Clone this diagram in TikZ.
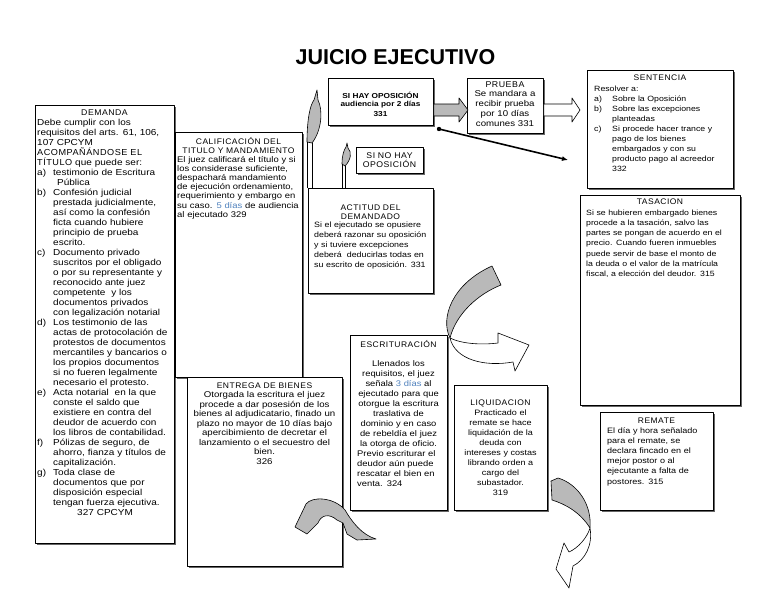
\documentclass[tikz,border=0pt]{standalone}
\usepackage{fontspec}
\setmainfont{Liberation Sans}
\newfontfamily\bodyfont{Liberation Sans}[FakeStretch=1.15]
\newfontfamily\headfont{Liberation Sans}[LetterSpace=6,FakeStretch=1.05]
\usetikzlibrary{shadows,arrows.meta}
\definecolor{dblue}{RGB}{79,129,189}
\definecolor{agray}{RGB}{185,185,185}
\newcommand\itm[1]{\makebox[16pt][l]{#1}}
\newcommand\ind{\hspace*{16pt}}
\newcommand\mkbox[5]{\node[box, minimum width={#4-#2}, minimum height={#5-#3}] (#1) at (#2,#3) {};}
\begin{document}
\begin{tikzpicture}[x=1pt,y=-1pt,line join=round,
  box/.style={draw, line width=0.8pt, fill=white, anchor=north west, inner sep=0pt,
    drop shadow={shadow xshift=1.2pt, shadow yshift=-1.2pt, fill=black!60, opacity=1}},
  tl/.style={anchor=base west, inner sep=0pt, align=left, text width=#1},
  tc/.style={anchor=base, inner sep=0pt, align=center, text width=#1},
  hd/.style={font=\headfont\fontsize{#1}{9.3}\selectfont},
  arrowgray/.style={fill=agray, draw=black, line width=0.6pt},
  arrowwhite/.style={fill=white, draw=black, line width=0.6pt}]
\useasboundingbox (0,0) rectangle (768,594);
\fill[white] (0,0) rectangle (768,594);

% title
\node[anchor=base, inner sep=0pt, font=\fontsize{21.5}{21.5}\bfseries\selectfont] (title) at (395.5,65) {JUICIO EJECUTIVO};

% boxes
\mkbox{dem}{35}{105}{174}{543}
\mkbox{cal}{175}{132}{302}{377}
\mkbox{sihay}{328}{78}{433}{125}
\mkbox{sino}{356}{147}{423}{173}
\mkbox{act}{308}{188}{433}{293}
\mkbox{prueba}{467}{78}{543}{133}
\mkbox{sent}{587}{70}{733}{188}
\mkbox{tas}{580}{195}{740}{405}
\mkbox{esc}{350}{335}{447}{510}
\mkbox{ent}{187}{377}{342}{566}
\mkbox{liq}{454}{385}{547}{510}
\mkbox{rem}{600}{412}{713}{510}

% DEMANDA
\node[tc=130pt, hd=8.3] (demH) at (104.5,115) {DEMANDA};
\node[tl=136pt, font=\bodyfont\fontsize{8.7}{10}\selectfont] (demT) at (37,125) {Debe cumplir con los\\
requisitos del arts. 61, 106,\\
107 CPCYM\\
{\headfont ACOMPAÑÁNDOSE EL}\\
{\headfont TÍTULO} que puede ser:\\
\itm{a)}testimonio de Escritura\\
\ind\hspace*{4pt}Pública\\
\itm{b)}Confesión judicial\\
\ind prestada judicialmente,\\
\ind así como la confesión\\
\ind ficta cuando hubiere\\
\ind principio de prueba\\
\ind escrito.\\
\itm{c)}Documento privado\\
\ind suscritos por el obligado\\
\ind o por su representante y\\
\ind reconocido ante juez\\
\ind competente\ \ y los\\
\ind documentos privados\\
\ind con legalización notarial\\
\itm{d)}Los testimonio de las\\
\ind actas de protocolación de\\
\ind protestos de documentos\\
\ind mercantiles y bancarios o\\
\ind los propios documentos\\
\ind si no fueren legalmente\\
\ind necesario el protesto.\\
\itm{e)}Acta notarial\ \ en la que\\
\ind conste el saldo que\\
\ind existiere en contra del\\
\ind deudor de acuerdo con\\
\ind los libros de contabilidad.\\
\itm{f)}Pólizas de seguro, de\\
\ind ahorro, fianza y títulos de\\
\ind capitalización.\\
\itm{g)}Toda clase de\\
\ind documentos que por\\
\ind disposición especial\\
\ind tengan fuerza ejecutiva.\\
\hspace*{40pt}327 CPCYM};

% CALIFICACION
\node[tc=125pt, hd=8.1] (calH) at (238.5,144) {CALIFICACIÓN DEL\\TITULO Y MANDAMIENTO};
\node[tl=124pt, font=\bodyfont\fontsize{8.2}{9.2}\selectfont] (calT) at (177,162) {El juez calificará el título y si\\
los considerase suficiente,\\
despachará mandamiento\\
de ejecución ordenamiento,\\
requerimiento y embargo en\\
su caso. \textcolor{dblue}{5 días} de audiencia\\
al ejecutado 329};

% SI HAY
\node[tc=100pt, font=\bodyfont\bfseries\fontsize{7.2}{9}\selectfont] (sihayT) at (380.5,98) {SI HAY OPOSICIÓN\\audiencia por 2 días\\331};
% SI NO HAY
\node[tc=65pt, hd=8.3] (sinoT) at (389.5,158.5) {SI NO HAY\\OPOSICIÓN};

% ACTITUD
\node[tc=120pt, hd=8.1] (actH) at (370.5,210) {ACTITUD DEL\\DEMANDADO};
\node[tl=122pt, font=\bodyfont\fontsize{7.7}{10}\selectfont] (actT) at (314,227) {Si el ejecutado se opusiere\\
deberá razonar su oposición\\
y si tuviere excepciones\\
deberá\ \ deducirlas todas en\\
su escrito de oposición. 331};

% PRUEBA
\node[tc=74pt, font=\bodyfont\fontsize{8.4}{9.8}\selectfont] (pruebaT) at (505,87) {{\headfont PRUEBA}\\Se mandara a\\recibir prueba\\por 10 días\\comunes 331};

% SENTENCIA
\node[tc=140pt, hd=8.1] (sentH) at (660,81) {SENTENCIA};
\node[tl=140pt, font=\bodyfont\fontsize{7.6}{10.1}\selectfont] (sentT) at (594,91) {Resolver a:\\
\makebox[18pt][l]{a)}Sobre la Oposición\\
\makebox[18pt][l]{b)}Sobre las excepciones\\
\hspace*{18pt}planteadas\\
\makebox[18pt][l]{c)}Si procede hacer trance y\\
\hspace*{18pt}pago de los bienes\\
\hspace*{18pt}embargados y con su\\
\hspace*{18pt}producto pago al acreedor\\
\hspace*{18pt}332};

% TASACION
\node[tc=150pt, hd=8.1] (tasH) at (660,204) {TASACION};
\node[tl=152pt, font=\bodyfont\fontsize{7.6}{10.3}\selectfont] (tasT) at (586,215) {Si se hubieren embargado bienes\\
procede a la tasación, salvo las\\
partes se pongan de acuerdo en el\\
precio. Cuando fueren inmuebles\\
puede servir de base el monto de\\
la deuda o el valor de la matrícula\\
fiscal, a elección del deudor. 315};

% ESCRITURACION
\node[tc=95pt, hd=8.1] (escH) at (398.5,347.5) {ESCRITURACIÓN};
\node[tc=95pt, font=\bodyfont\fontsize{8.15}{10}\selectfont] (escT) at (398.5,366) {Llenados los\\
requisitos, el juez\\
señala \textcolor{dblue}{3 días} al\\
ejecutado para que\\
otorgue la escritura\\
traslativa de\\
dominio y en caso\\
de rebeldía el juez\\
la otorga de oficio.};
\node[tl=88pt, font=\bodyfont\fontsize{8.15}{10}\selectfont] (escT2) at (357,456) {Previo escriturar el\\
deudor aún puede\\
rescatar el bien en\\
venta. 324};

% ENTREGA
\node[tc=153pt, hd=8.1] (entH) at (264.5,388) {ENTREGA DE BIENES};
\node[tc=155pt, font=\bodyfont\fontsize{8.4}{9.5}\selectfont] (entT) at (264.5,397.5) {Otorgada la escritura el juez\\
procede a dar posesión de los\\
bienes al adjudicatario, finado un\\
plazo no mayor de 10 días bajo\\
apercibimiento de decretar el\\
lanzamiento o el secuestro del\\
bien.\\
326};

% LIQUIDACION
\node[tc=92pt, hd=8.1] (liqH) at (500.5,405) {LIQUIDACION};
\node[tc=92pt, font=\bodyfont\fontsize{7.85}{10}\selectfont] (liqT) at (500.5,415) {Practicado el\\
remate se hace\\
liquidación de la\\
deuda con\\
intereses y costas\\
librando orden a\\
cargo del\\
subastador.\\
319};

% REMATE
\node[tc=110pt, hd=8.1] (remH) at (656.5,423) {REMATE};
\node[tl=104pt, font=\bodyfont\fontsize{7.85}{10.2}\selectfont] (remT) at (607,433) {El día y hora señalado\\
para el remate, se\\
declara fincado en el\\
mejor postor o al\\
ejecutante a falta de\\
postores. 315};

% block arrows
\filldraw[arrowgray] (sihay.east |- 0,104) -- (459,104) -- (459,98) -- (468,110) -- (459,122) -- (459,116) -- (sihay.east |- 0,116) -- cycle;
\filldraw[arrowwhite] (prueba.east |- 0,104) -- (572,104) -- (572,98) -- (580,110) -- (572,122) -- (572,116) -- (prueba.east |- 0,116) -- cycle;

% line with dot
\coordinate (dotE) at (439,129);
\coordinate (endE) at (568,160);
\fill (dotE) circle (2.2);
\draw[line width=1.6pt, -{Latex[length=6pt,width=5pt]}] (dotE) -- (endE);

% up arrows from ACTITUD
\filldraw[arrowgray] (307,142) .. controls (307,120) and (310,105) .. (314,100) -- (317,90) -- (318,100) .. controls (323,110) and (322,130) .. (312,143) -- cycle;
\draw[line width=0.6pt] (307,142) -- (307,188) (312,143) -- (312,188);
\filldraw[arrowgray] (342,164) .. controls (342,155) and (344,150) .. (346,147) -- (347,143) -- (348,148) .. controls (352,152) and (351,160) .. (345,166) -- cycle;
\draw[line width=0.6pt] (342,164) -- (342,188) (345,166) -- (345,188);

% curved arrow F
\filldraw[arrowgray] (492,266) -- (501,285) .. controls (478,294) and (456,314) .. (450,338) .. controls (440,318) and (452,284) .. (492,266) -- cycle;
\filldraw[arrowwhite] (450,338) .. controls (462,344) and (482,345) .. (498,343) -- (498,333) -- (529,345) -- (515,371) -- (513,362) .. controls (485,367) and (455,360) .. (450,338) -- cycle;

% curved arrow G
\filldraw[arrowgray] (551,481) -- (558,478) .. controls (578,484) and (592,505) .. (590,528) .. controls (580,512) and (565,504) .. (552,500) -- cycle;
\filldraw[arrowwhite] (590,528) .. controls (593,545) and (585,560) .. (573,566) -- (569,588) -- (556,569) -- (564,543) -- (569,552) .. controls (578,548) and (587,538) .. (590,528) -- cycle;

% curved arrow H
\filldraw[arrowgray] (295,527) -- (306,504) .. controls (312,496) and (334,497) .. (345,510) .. controls (352,522) and (362,535) .. (376,539) -- (357,540) -- (347,534) -- (343,523) -- (337,520) .. controls (329,513) and (321,515) .. (318,523) -- (307,534) -- cycle;
\end{tikzpicture}
\end{document}
